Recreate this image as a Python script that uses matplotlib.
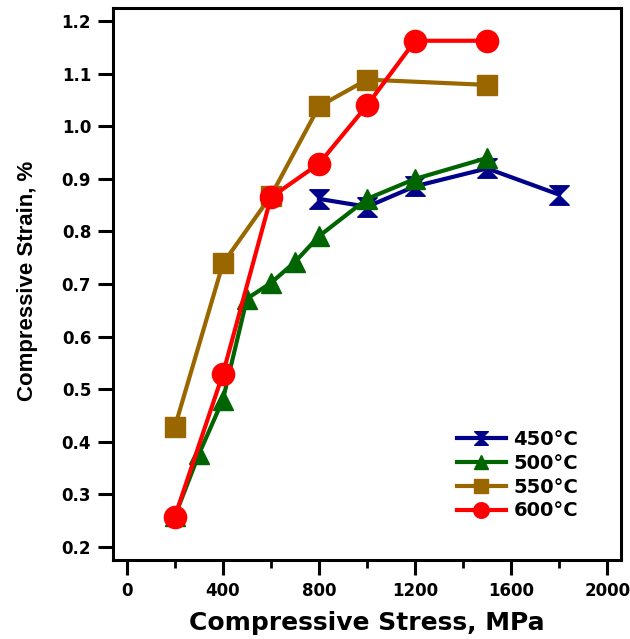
import matplotlib
matplotlib.use("Agg")
import matplotlib.pyplot as plt
from matplotlib.path import Path
from matplotlib.ticker import MultipleLocator, FormatStrFormatter

plt.rcParams['font.family'] = ['Liberation Sans', 'DejaVu Sans']
plt.rcParams['font.weight'] = 'bold'
wide = 'DejaVu Sans'  # wider face for the horizontal texts

# data
stress_450 = [800, 1000, 1200, 1500, 1800]
strain_450 = [0.862, 0.847, 0.886, 0.920, 0.870]

stress_500 = [200, 300, 400, 500, 600, 700, 800, 1000, 1200, 1500]
strain_500 = [0.258, 0.376, 0.480, 0.672, 0.702, 0.742, 0.791, 0.862, 0.900, 0.940]

stress_550 = [200, 400, 600, 800, 1000, 1500]
strain_550 = [0.428, 0.739, 0.868, 1.038, 1.089, 1.079]

stress_600 = [200, 400, 600, 800, 1000, 1200, 1500]
strain_600 = [0.257, 0.529, 0.865, 0.929, 1.040, 1.163, 1.163]

# hourglass marker (two triangles tip to tip)
hourglass = Path([(-1, 1), (1, 1), (0, 0), (-1, 1), (-1, -1), (1, -1), (0, 0), (-1, -1)],
                 [Path.MOVETO, Path.LINETO, Path.LINETO, Path.CLOSEPOLY,
                  Path.MOVETO, Path.LINETO, Path.LINETO, Path.CLOSEPOLY])

fig = plt.figure(figsize=(6.3, 6.39), dpi=100)
ax = fig.add_axes([0.180, 0.124, 0.806, 0.864])

ax.plot(stress_450, strain_450, color='#00008B', lw=3, marker=hourglass, ms=14, label='450°C')
ax.plot(stress_500, strain_500, color='#006400', lw=3, marker='^', ms=14, label='500°C')
ax.plot(stress_550, strain_550, color='#996600', lw=3, marker='s', ms=15, label='550°C')
ax.plot(stress_600, strain_600, color='#FF0000', lw=3, marker='o', ms=16, label='600°C')

ax.set_xlim(-56, 2058)
ax.set_ylim(0.175, 1.226)
ax.xaxis.set_major_locator(MultipleLocator(400))
ax.xaxis.set_minor_locator(MultipleLocator(200))
ax.yaxis.set_major_locator(MultipleLocator(0.1))
ax.yaxis.set_major_formatter(FormatStrFormatter('%.1f'))

for s in ax.spines.values():
    s.set_linewidth(2.2)
ax.tick_params(which='major', direction='out', length=11, width=2.2, labelsize=12, pad=5)
ax.tick_params(which='minor', direction='out', length=6, width=2)
for lbl in ax.get_xticklabels() + ax.get_yticklabels():
    lbl.set_fontfamily(wide)

ax.set_xlabel('Compressive Stress, MPa', fontsize=18, fontweight='bold', fontfamily=wide)
ax.set_ylabel('Compressive Strain, %', fontsize=16, fontweight='bold')
ax.xaxis.set_label_coords(0.5, -0.092)
ax.yaxis.set_label_coords(-0.148, 0.505)

ax.legend(loc='upper left', bbox_to_anchor=(0.65, 0.26), frameon=False,
          prop={'family': wide, 'weight': 'bold', 'size': 14},
          handlelength=2.5, handletextpad=0.4, labelspacing=0.25, markerscale=0.7,
          borderpad=0.2)

fig.savefig('out.png', dpi=100)
